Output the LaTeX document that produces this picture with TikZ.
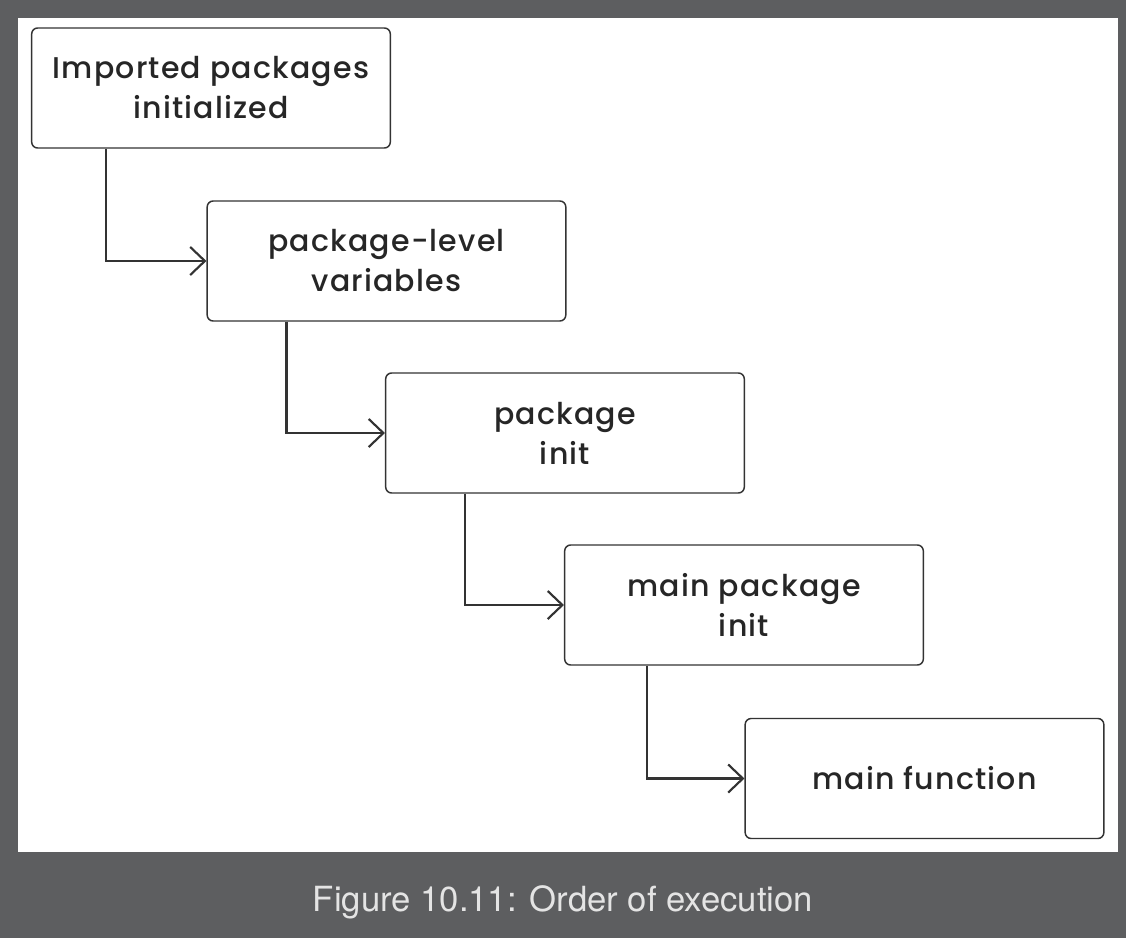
\documentclass[tikz,border=0pt]{standalone}
\usepackage{fontspec}
\setmainfont{Poppins}[UprightFont={* Medium},LetterSpace=4]
\newfontfamily\capfont{TeX Gyre Heros}
\usetikzlibrary{arrows.meta}
\definecolor{bggray}{HTML}{5D5E60}
\definecolor{capgray}{HTML}{E4E4E4}
\definecolor{linegray}{HTML}{333333}
\begin{document}
\begin{tikzpicture}[x=0.75pt,y=-0.75pt,
  stepbox/.style={draw=linegray, line width=1.1pt, rounded corners=4.5pt, fill=white,
    minimum width=269pt, minimum height=90pt, align=center, inner sep=0pt,
    font=\fontsize{22.5}{30}\selectfont, text=black!85},
  conn/.style={draw=linegray, line width=1.6pt, -{Straight Barb[length=11pt,width=21pt,line width=1.6pt]}}]
\fill[bggray] (0,0) rectangle (1126,938);
\useasboundingbox (0,0) rectangle (1126,938);
\fill[white] (18,18) rectangle (1118,852);
\node[stepbox] (b1) at (211,88) {Imported packages\\initialized};
\node[stepbox] (b2) at (386.5,261) {package-level\\variables};
\node[stepbox] (b3) at (565,433) {package\\init};
\node[stepbox] (b4) at (744,605) {main package\\init};
\node[stepbox] (b5) at (924.5,778.5) {main function};
\draw[conn] ([xshift=56pt]b1.south west) |- (b2.west);
\draw[conn] ([xshift=60pt]b2.south west) |- (b3.west);
\draw[conn] ([xshift=60pt]b3.south west) |- (b4.west);
\draw[conn] ([xshift=62pt]b4.south west) |- (b5.west);
\node[text=capgray, font=\capfont\fontsize{26}{30}\selectfont] (cap) at (563,902) {Figure 10.11: Order of execution};
\end{tikzpicture}
\end{document}
